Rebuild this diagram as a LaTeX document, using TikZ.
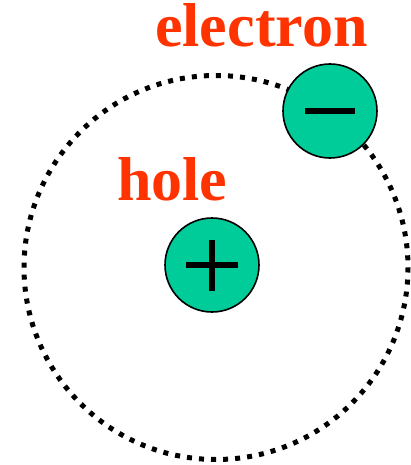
\documentclass[tikz,border=0pt]{standalone}
\usepackage{fontspec}
\setmainfont{Liberation Serif}
\definecolor{labelred}{RGB}{255,51,0}
\definecolor{particle}{RGB}{0,204,153}
\begin{document}
\begin{tikzpicture}[x=1pt,y=-1pt,
  lbl/.style={anchor=base west,inner sep=0pt,text=labelred,font=\fontsize{62}{62}\selectfont\bfseries},
  particlecirc/.style={circle,draw=black,line width=1.6pt,fill=particle,minimum size=94pt,inner sep=0pt},
  bar/.style={line width=6.5pt,black}]
\useasboundingbox (0,0) rectangle (411,465);
\coordinate (orbitc) at (216,267.5);
\draw[line width=5pt,dash pattern=on 5pt off 7.064pt] (orbitc) circle[radius=192];
\node[particlecirc] (hole) at (212,265) {};
\node[particlecirc] (electron) at (330,111) {};
\draw[bar] ([xshift=-26pt]hole.center) -- ([xshift=26pt]hole.center);
\draw[bar] ([yshift=-25.5pt]hole.center) -- ([yshift=25.5pt]hole.center);
\draw[bar] ([xshift=-25pt]electron.center) -- ([xshift=25pt]electron.center);
\node[lbl] (electronlabel) at (155,47) {electron};
\node[lbl] (holelabel) at (117,200) {hole};
\end{tikzpicture}
\end{document}
